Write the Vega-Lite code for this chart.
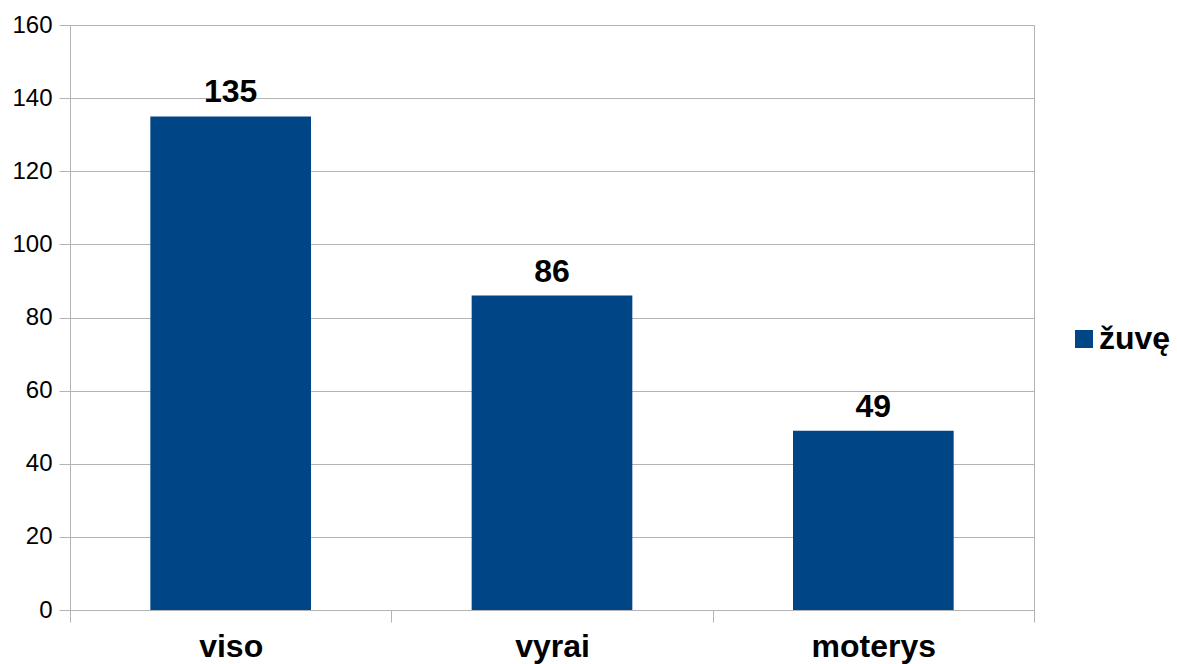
{
  "$schema": "https://vega.github.io/schema/vega-lite/v6.json",
  "width": 964,
  "height": 585,
  "autosize": {"type": "none"},
  "padding": {"left": 70, "top": 25, "right": 143, "bottom": 54},
  "background": "white",
  "config": {
    "font": "Liberation Sans",
    "view": {"stroke": "#b3b3b3", "strokeWidth": 1},
    "axis": {"gridColor": "#b3b3b3", "domainColor": "#b3b3b3", "tickColor": "#b3b3b3", "labelColor": "#000000"}
  },
  "data": {
    "values": [
      {"kategorija": "viso", "serija": "žuvę", "reiksme": 135},
      {"kategorija": "vyrai", "serija": "žuvę", "reiksme": 86},
      {"kategorija": "moterys", "serija": "žuvę", "reiksme": 49}
    ]
  },
  "encoding": {
    "x": {
      "field": "kategorija",
      "type": "nominal",
      "sort": null,
      "scale": {"paddingInner": 0, "paddingOuter": 0},
      "axis": {
        "title": null,
        "labelAngle": 0,
        "labelFontSize": 32,
        "labelFontWeight": "bold",
        "labelPadding": 9,
        "tickBand": "extent",
        "tickSize": 12,
        "grid": false,
        "domain": true
      }
    },
    "y": {
      "field": "reiksme",
      "type": "quantitative",
      "scale": {"domain": [0, 160], "nice": false},
      "axis": {
        "title": null,
        "values": [0, 20, 40, 60, 80, 100, 120, 140, 160],
        "labelFontSize": 24,
        "labelPadding": 7,
        "tickSize": 11,
        "grid": true,
        "domain": true
      }
    }
  },
  "layer": [
    {
      "mark": {"type": "bar", "color": "#004586", "width": {"band": 0.5}},
      "encoding": {
        "color": {
          "field": "serija",
          "type": "nominal",
          "scale": {"range": ["#004586"]},
          "legend": {
            "title": null,
            "orient": "none",
            "legendX": 998,
            "legendY": 298,
            "padding": 0,
            "symbolType": "square",
            "symbolSize": 324,
            "symbolStrokeWidth": 0,
            "symbolOpacity": 1,
            "labelFontSize": 32,
            "labelFontWeight": "bold",
            "labelOffset": -1,
            "labelColor": "#000000"
          }
        }
      }
    },
    {
      "mark": {"type": "text", "baseline": "bottom", "dy": -7, "fontSize": 32, "fontWeight": "bold", "color": "#000000"},
      "encoding": {"text": {"field": "reiksme", "type": "quantitative"}}
    }
  ]
}
